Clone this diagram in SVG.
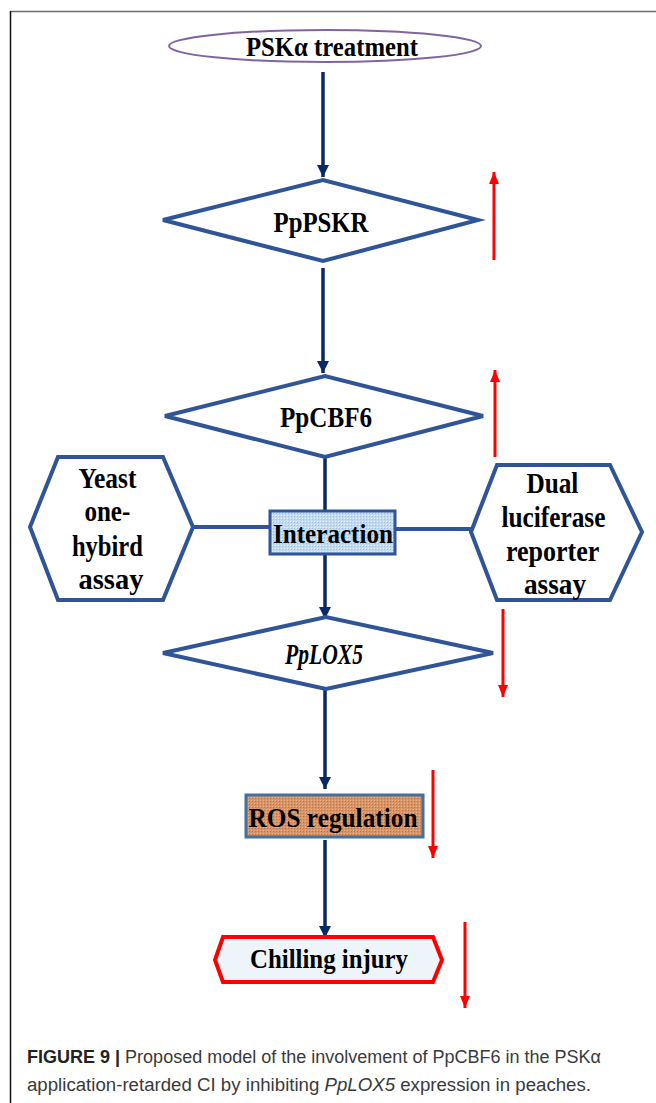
<svg xmlns="http://www.w3.org/2000/svg" width="656" height="1103" viewBox="0 0 656 1103">
<defs>
<style>
.t{font-family:"Liberation Serif","Times New Roman",serif;font-weight:bold;fill:#000;text-anchor:middle}
.dia{fill:#fff;stroke:#2f5597;stroke-width:4;stroke-linejoin:miter}
.hex{fill:#fff;stroke:#2f5597;stroke-width:4}
.nav{stroke:#0b2866;stroke-width:3.5;fill:none}
.red{stroke:#ff0000;stroke-width:3;fill:none}
.lnk{stroke:#2f5597;stroke-width:4;fill:none}
.cap{font-family:"Liberation Sans",Arial,sans-serif;font-size:18px;fill:#3a3a3a}
</style>
<marker id="an" markerUnits="userSpaceOnUse" markerWidth="14" markerHeight="14" refX="12" refY="7" orient="auto">
<path d="M0,1 L12,7 L0,13 z" fill="#0b2866"/>
</marker>
<marker id="ar" markerUnits="userSpaceOnUse" markerWidth="14" markerHeight="12" refX="12" refY="6" orient="auto">
<path d="M0,1 L12,6 L0,11 z" fill="#ff0000"/>
</marker>
<pattern id="pb" width="3" height="3" patternUnits="userSpaceOnUse">
<rect width="3" height="3" fill="#c3dbf1"/>
<rect width="1" height="1" fill="#9dbfe0"/>
<rect x="2" y="2" width="1" height="1" fill="#e6f0fa"/>
</pattern>
<pattern id="po" width="3" height="3" patternUnits="userSpaceOnUse">
<rect width="3" height="3" fill="#d99466"/>
<rect width="1" height="1" fill="#b8754d"/>
<rect x="2" y="2" width="1" height="1" fill="#eab38d"/>
</pattern>
</defs>

<g id="frame">
<line x1="10" y1="11.5" x2="656" y2="11.5" stroke="#6e6e6e" stroke-width="1.5"/>
<line x1="10.5" y1="11" x2="10.5" y2="1103" stroke="#111" stroke-width="1.5"/>
</g>

<g id="connectors">
<line class="nav" x1="323" y1="72" x2="323" y2="177" marker-end="url(#an)"/>
<line class="nav" x1="323" y1="268" x2="323" y2="373" marker-end="url(#an)"/>
<line class="nav" x1="325" y1="457" x2="325" y2="511"/>
<line class="nav" x1="325" y1="554" x2="325" y2="619" marker-end="url(#an)"/>
<line class="nav" x1="325" y1="689" x2="325" y2="789" marker-end="url(#an)"/>
<line class="nav" x1="325" y1="840" x2="325" y2="938" marker-end="url(#an)"/>
<line class="lnk" x1="193" y1="527" x2="270" y2="527"/>
<line class="lnk" x1="395" y1="529" x2="471" y2="529"/>
<line class="red" x1="494" y1="260" x2="494" y2="172" marker-end="url(#ar)"/>
<line class="red" x1="495" y1="457" x2="495" y2="370" marker-end="url(#ar)"/>
<line class="red" x1="503" y1="609" x2="503" y2="697" marker-end="url(#ar)"/>
<line class="red" x1="433" y1="770" x2="433" y2="858" marker-end="url(#ar)"/>
<line class="red" x1="465" y1="922" x2="465" y2="1008" marker-end="url(#ar)"/>
</g>

<g id="psk">
<ellipse cx="325" cy="46" rx="156" ry="16" fill="#fff" stroke="#8064a2" stroke-width="2"/>
<text class="t" x="332" y="56" font-size="28" textLength="172" lengthAdjust="spacingAndGlyphs">PSKα treatment</text>
</g>

<g id="ppPSKR">
<polygon class="dia" points="163,220 323,180 478,220 323,261"/>
<text class="t" x="321" y="232" font-size="30" textLength="95" lengthAdjust="spacingAndGlyphs">PpPSKR</text>
</g>

<g id="ppCBF6">
<polygon class="dia" points="165,416 325,376 483,416 325,457"/>
<text class="t" x="326" y="427" font-size="30" textLength="92" lengthAdjust="spacingAndGlyphs">PpCBF6</text>
</g>

<g id="interaction">
<rect x="270" y="511" width="125" height="43" fill="url(#pb)" stroke="#2f5597" stroke-width="3"/>
<text class="t" x="333" y="543" font-size="28" textLength="120" lengthAdjust="spacingAndGlyphs">Interaction</text>
</g>

<g id="yeast">
<polygon class="hex" points="30,527 58,457 163,457 193,527 163,600 58,600"/>
<text class="t" font-size="29">
<tspan x="111" y="488" textLength="58" lengthAdjust="spacingAndGlyphs">Yeast</tspan>
<tspan x="111" y="521" textLength="46" lengthAdjust="spacingAndGlyphs">one-</tspan>
<tspan x="111" y="556" textLength="71" lengthAdjust="spacingAndGlyphs">hybird</tspan>
<tspan x="111" y="589" textLength="65" lengthAdjust="spacingAndGlyphs">assay</tspan>
</text>
</g>

<g id="dual">
<polygon class="hex" points="471,532 497,465 610,465 642,532 610,600 497,600"/>
<text class="t" font-size="29">
<tspan x="556" y="493" textLength="52" lengthAdjust="spacingAndGlyphs">Dual</tspan>
<tspan x="557" y="527" textLength="104" lengthAdjust="spacingAndGlyphs">luciferase</tspan>
<tspan x="556" y="561" textLength="93" lengthAdjust="spacingAndGlyphs">reporter</tspan>
<tspan x="555" y="594" textLength="62" lengthAdjust="spacingAndGlyphs">assay</tspan>
</text>
</g>

<g id="ppLOX5">
<polygon class="dia" points="163,653 326,617 493,653 326,689"/>
<text class="t" x="324" y="664" font-size="30" font-style="italic" font-weight="normal" textLength="78" lengthAdjust="spacingAndGlyphs">PpLOX5</text>
</g>

<g id="ros">
<rect x="246" y="795" width="177" height="42" fill="url(#po)" stroke="#41719c" stroke-width="3"/>
<text class="t" x="333" y="827" font-size="28" textLength="169" lengthAdjust="spacingAndGlyphs">ROS regulation</text>
</g>

<g id="chilling">
<polygon points="215,960 223,937 433,937 442,960 433,982 223,982" fill="#eef5fa" stroke="#ff0000" stroke-width="4"/>
<text class="t" x="329" y="968" font-size="28" textLength="158" lengthAdjust="spacingAndGlyphs">Chilling injury</text>
</g>

<g id="caption">
<text class="cap" x="27" y="1063" textLength="574" lengthAdjust="spacingAndGlyphs"><tspan font-weight="bold" fill="#222">FIGURE 9 |</tspan> Proposed model of the involvement of PpCBF6 in the PSKα</text>
<text class="cap" x="27" y="1091" textLength="564" lengthAdjust="spacingAndGlyphs">application-retarded CI by inhibiting <tspan font-style="italic">PpLOX5</tspan> expression in peaches.</text>
</g>
</svg>
